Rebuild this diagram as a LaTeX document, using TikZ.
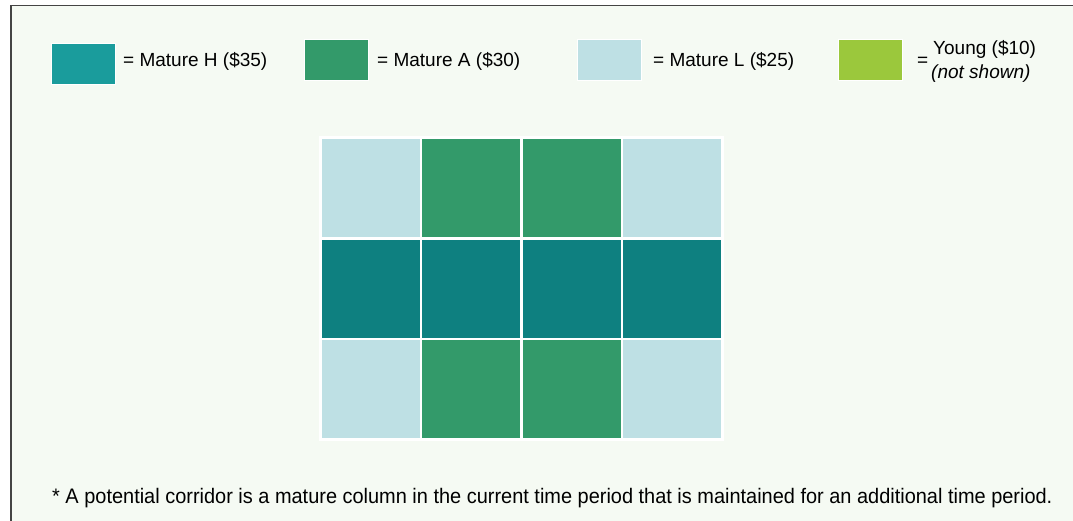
\documentclass[tikz,border=0pt]{standalone}
\usepackage{fontspec}
\setmainfont{Liberation Sans}
\definecolor{paneBg}{HTML}{F5FAF3}
\definecolor{frameGray}{HTML}{444444}
\definecolor{matureH}{HTML}{1A9C9C}
\definecolor{matureHdark}{HTML}{0E8080}
\definecolor{matureA}{HTML}{339A6A}
\definecolor{matureL}{HTML}{BEE0E4}
\definecolor{young}{HTML}{9BC83C}
\tikzset{
  swatch/.style={minimum width=64pt, minimum height=41pt, inner sep=0pt, draw=white, line width=1pt},
  keytext/.style={anchor=base west, inner sep=0pt},
  cell/.style={minimum width=100.5pt, minimum height=100.5pt, inner sep=0pt, draw=white, line width=2.5pt},
}
\begin{document}
\begin{tikzpicture}[x=1pt, y=-1pt, font=\fontsize{19}{23}\selectfont]
	\useasboundingbox (0,0) rectangle (1073,521);
	\clip (0,0) rectangle (1073,521);
	\draw[fill=paneBg, draw=frameGray, line width=1.5pt] (11,5.5) rectangle (1090,540);
	% key
	\node[swatch, fill=matureH] (keyH) at (83,64.5) {};
	\node[keytext] (txtH) at (123,67) {= Mature H (\$35)};
	\node[swatch, fill=matureA] (keyA) at (336.5,60) {};
	\node[keytext] (txtA) at (377,67) {= Mature A (\$30)};
	\node[swatch, fill=matureL] (keyL) at (609.5,60) {};
	\node[keytext] (txtL) at (653,67) {= Mature L (\$25)};
	\node[swatch, fill=young] (keyY) at (870.5,60) {};
	\node[keytext] (txtY) at (917,67) {=};
	\node[keytext] (txtYa) at (933,55) {Young (\$10)};
	\node[keytext] (txtYb) at (931,79) {\itshape (not shown)};
	% stand: light / aged / heavy rows
	\foreach \c [count=\i from 0] in {matureL,matureA,matureA,matureL}{
		\node[cell, fill=\c] (top\i) at (370.5+100.5*\i,188) {};
		\node[cell, fill=matureHdark] (mid\i) at (370.5+100.5*\i,289) {};
		\node[cell, fill=\c] (bot\i) at (370.5+100.5*\i,389) {};
	}
	\node[keytext, font=\fontsize{21}{25}\selectfont] (note) at (52,503) {\scalebox{0.95}[1]{* A potential corridor is a mature column in the current time period that is maintained for an additional time period.}};
\end{tikzpicture}
\end{document}
